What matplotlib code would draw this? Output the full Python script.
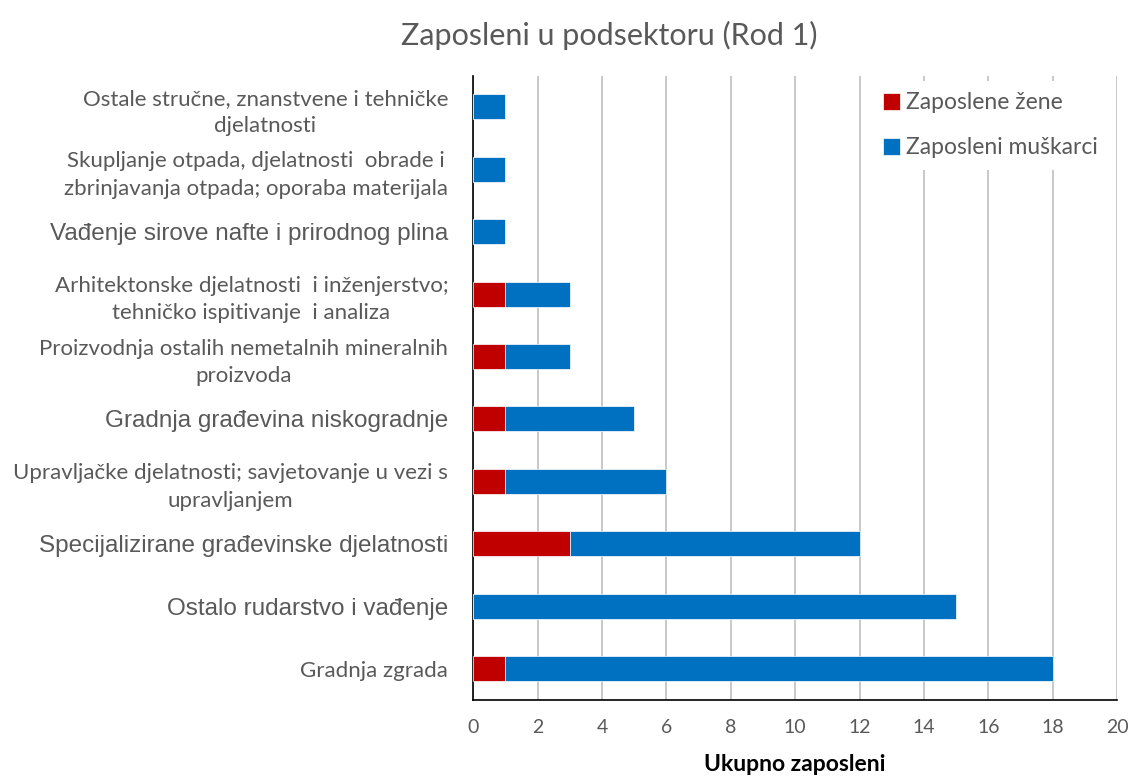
import matplotlib.pyplot as plt
import numpy as np

categories = [
    "Gradnja zgrada",
    "Ostalo rudarstvo i vađenje",
    "Specijalizirane građevinske djelatnosti",
    "Upravljačke djelatnosti; savjetovanje u vezi s\nupravljanjem",
    "Gradnja građevina niskogradnje",
    "Proizvodnja ostalih nemetalnih mineralnih\nproizvoda",
    "Arhitektonske djelatnosti  i inženjerstvo;\ntehničko ispitivanje  i analiza",
    "Vađenje sirove nafte i prirodnog plina",
    "Skupljanje otpada, djelatnosti  obrade i\nzbrinjavanja otpada; oporaba materijala",
    "Ostale stručne, znanstvene i tehničke\ndjelatnosti",
]
zene = [1, 0, 3, 1, 1, 1, 1, 0, 0, 0]
muskarci = [17, 15, 9, 5, 4, 2, 2, 1, 1, 1]
# labels drawn in the larger Arial-like font in the original
big_labels = [1, 2, 4, 7]

red = "#C00000"
blue = "#0070C0"
grey = "#595959"

fig = plt.figure(figsize=(11.32, 7.81), dpi=100)
ax = fig.add_axes([0.418, 0.104, 0.569, 0.799])

y = np.arange(len(categories))
ax.barh(y, zene, height=0.4, color=red, edgecolor="white", linewidth=0.5,
        label="Zaposlene žene", zorder=3)
ax.barh(y, muskarci, left=zene, height=0.4, color=blue, edgecolor="white",
        linewidth=0.5, label="Zaposleni muškarci", zorder=3)

ax.set_xlim(0, 20)
ax.set_ylim(-0.5, len(categories) - 0.5)
ax.set_xticks(range(0, 21, 2))
ax.set_yticks(y)
ax.set_yticklabels(categories)
for i, lab in enumerate(ax.get_yticklabels()):
    lab.set_multialignment("center")
    lab.set_color(grey)
    lab.set_linespacing(1.45)
    if i in big_labels:
        lab.set_fontfamily("Liberation Sans")
        lab.set_fontsize(17.5)
    else:
        lab.set_fontfamily("Lato")
        lab.set_fontsize(16)
for lab in ax.get_xticklabels():
    lab.set_fontfamily("Lato")
    lab.set_fontsize(14)
    lab.set_color(grey)

ax.tick_params(axis="both", length=0)
ax.tick_params(axis="x", pad=14)
ax.tick_params(axis="y", pad=18)
ax.grid(axis="x", color="#BFBFBF", linewidth=1.2, zorder=0)
ax.set_axisbelow(True)
for s in ["top", "right"]:
    ax.spines[s].set_visible(False)
ax.spines["left"].set_color("black")
ax.spines["bottom"].set_color("black")
ax.spines["left"].set_linewidth(1.2)
ax.spines["bottom"].set_linewidth(1.2)

ax.set_xlabel("Ukupno zaposleni", fontsize=16.5, fontweight="bold",
              fontfamily="Lato", color="black", labelpad=13)
fig.suptitle("Zaposleni u podsektoru (Rod 1)", x=0.538, y=0.955, va="center",
             fontsize=22, fontfamily="Lato", color=grey)

leg = ax.legend(loc="upper right", bbox_to_anchor=(1.005, 1.01),
                prop={"family": "Lato", "size": 16.5}, frameon=True,
                facecolor="white", edgecolor="none", framealpha=1,
                handlelength=0.75, handleheight=0.75, handletextpad=0.25,
                labelspacing=1.05, borderpad=0.5)
for t in leg.get_texts():
    t.set_color(grey)

fig.savefig("out.png", dpi=100)
